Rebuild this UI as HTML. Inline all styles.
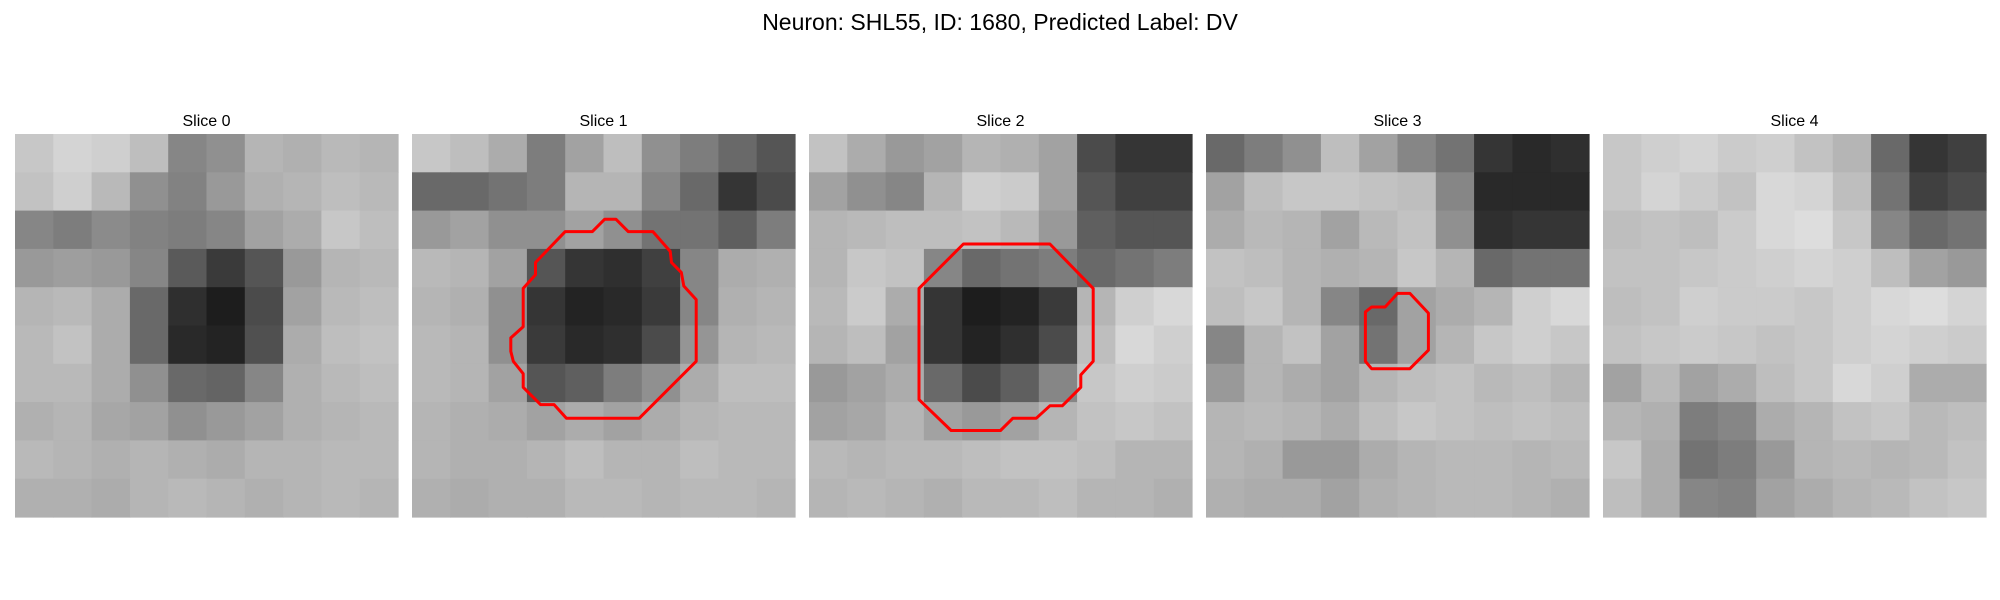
<!DOCTYPE html>
<html><head><meta charset="utf-8"><style>
html,body{margin:0;padding:0;background:#fff;}
svg{display:block;font-family:"Liberation Sans","DejaVu Sans",sans-serif;}
</style></head><body>
<svg id="fig" width="2000" height="600" viewBox="0 0 2000 600" xmlns="http://www.w3.org/2000/svg">
<rect width="2000" height="600" fill="#fff"/>
<text x="1000" y="30" text-anchor="middle" font-size="23" fill="#000">Neuron: SHL55, ID: 1680, Predicted Label: DV</text>
</svg>
<script>
const sliceTitles = ["Slice 0","Slice 1","Slice 2","Slice 3","Slice 4"];
const slice0 = [
[190,205,200,180,120,130,170,165,175,170],
[185,200,175,130,115,140,165,170,180,175],
[120,110,125,115,110,120,150,160,190,180],
[140,145,140,120,75,45,70,140,170,175],
[170,175,160,90,35,20,60,150,175,180],
[175,185,160,90,30,25,65,160,180,185],
[175,175,160,130,90,85,120,165,175,180],
[165,170,155,150,130,140,150,165,170,175],
[175,170,165,170,165,160,170,170,175,175],
[165,165,160,170,175,170,165,170,175,170]];
const slice1 = [
[190,180,160,110,150,180,130,110,90,70],
[90,90,100,110,170,170,120,90,40,60],
[140,150,130,130,150,130,100,100,80,110],
[175,170,150,70,40,35,50,120,160,165],
[170,165,130,40,25,30,45,120,165,170],
[175,170,130,45,30,35,60,135,170,175],
[175,170,150,70,80,110,130,160,180,180],
[170,165,160,150,160,150,160,170,175,175],
[170,165,165,170,180,170,170,180,175,175],
[165,160,165,165,175,175,170,175,175,170]];
const slice2 = [
[185,160,140,150,170,165,150,60,40,40],
[150,130,120,170,200,195,150,70,50,50],
[170,175,180,180,185,175,140,80,70,70],
[170,190,185,120,90,100,110,90,100,110],
[175,195,160,40,20,25,45,170,200,210],
[170,180,150,40,25,35,60,180,210,200],
[140,150,160,90,60,80,120,190,200,195],
[150,155,170,150,140,150,170,185,190,185],
[175,170,175,175,180,185,185,180,170,170],
[170,175,170,165,175,175,180,170,170,165]];
const slice3 = [
[90,110,130,180,150,120,100,40,30,35],
[150,180,190,190,185,180,120,30,30,30],
[160,175,170,150,175,185,130,35,40,40],
[185,180,170,165,170,190,170,90,100,100],
[180,190,170,120,90,150,160,170,200,210],
[120,170,185,150,100,150,170,190,200,190],
[140,170,160,150,170,180,185,175,180,170],
[170,175,170,160,180,190,185,180,185,180],
[170,165,140,140,160,170,175,175,170,175],
[165,160,160,150,165,170,175,175,170,165]];
const slice4 = [
[190,200,205,195,200,185,170,90,40,50],
[190,205,195,185,210,205,180,100,50,60],
[180,185,180,195,210,215,190,120,90,100],
[185,185,190,195,200,205,200,180,150,140],
[180,185,200,195,195,190,200,210,215,205],
[185,190,195,190,185,190,200,205,200,195],
[150,175,150,160,180,190,210,200,160,160],
[170,165,110,120,160,170,185,190,175,180],
[190,160,100,110,140,170,175,170,175,185],
[180,160,120,115,150,160,170,175,185,190]];
const slices = [slice0,slice1,slice2,slice3,slice4];
const contour1 = [[15.6,6.9],[16.5,6.9],[17.5,7.9],[19.5,7.9],[20.9,9.5],[21.0,10.4],[21.8,11.2],[22.0,12.3],[23.0,13.4],[23.0,18.4],[18.4,23.0],[12.5,23.0],[11.5,21.9],[10.4,21.9],[9.0,20.5],[9.0,19.4],[8.2,18.4],[8.0,17.6],[8.0,16.5],[9.0,15.6],[9.0,12.5],[10.0,11.4],[10.0,10.4],[12.4,7.9],[14.6,7.9]];
const contour2 = [[12.5,8.9],[19.5,8.9],[23.0,12.5],[23.0,18.4],[22.0,19.5],[22.0,20.5],[20.5,22.0],[19.5,22.0],[18.4,23.0],[16.5,23.0],[15.5,24.0],[11.5,24.0],[8.9,21.5],[8.9,12.5]];
const contour3 = [[15.5,12.9],[16.5,12.9],[18.0,14.5],[18.0,17.5],[16.5,19.0],[13.4,19.0],[12.9,18.4],[12.9,14.4],[13.4,14.0],[14.5,14.0]];
const contours = [null,contour1,contour2,contour3,null];

const NS="http://www.w3.org/2000/svg";
const svg=document.getElementById('fig');
const panelX0=15, panelStep=397, panelY=134, panelSize=383, imgUnits=31;
function px(i){return panelX0+i*panelStep;}
function shade(v){return Math.round(255*Math.pow(v/255,0.85));}
slices.forEach((grid,i)=>{
  const g=document.createElementNS(NS,'g');
  
  
  svg.appendChild(g);
  const n=grid.length, m=grid[0].length;
  const cw=panelSize/m, ch=panelSize/n;
  grid.forEach((row,r)=>row.forEach((v,c)=>{
    const rc=document.createElementNS(NS,'rect');
    
    
    rc.setAttribute('x',(px(i)+c*cw).toFixed(2));
    rc.setAttribute('y',(panelY+r*ch).toFixed(2));
    rc.setAttribute('width',(cw+0.6).toFixed(2));
    rc.setAttribute('height',(ch+0.6).toFixed(2));
    const s=shade(v);
    rc.setAttribute('fill',`rgb(${s},${s},${s})`);
    g.appendChild(rc);
  }));
  const t=document.createElementNS(NS,'text');
  
  
  t.setAttribute('x',px(i)+panelSize/2);
  t.setAttribute('y',126);
  t.setAttribute('text-anchor','middle');
  t.setAttribute('font-size','16');
  t.textContent=sliceTitles[i];
  svg.appendChild(t);
  const ct=contours[i];
  if(ct){
    const s=panelSize/imgUnits;
    const pl=document.createElementNS(NS,'polygon');
    
    
    pl.setAttribute('points',ct.map(p=>(px(i)+p[0]*s).toFixed(1)+','+(panelY+p[1]*s).toFixed(1)).join(' '));
    pl.setAttribute('fill','none');
    pl.setAttribute('stroke','#ff0000');
    pl.setAttribute('stroke-width','3');
    pl.setAttribute('stroke-linejoin','round');
    svg.appendChild(pl);
  }
});
</script>
</body></html>
